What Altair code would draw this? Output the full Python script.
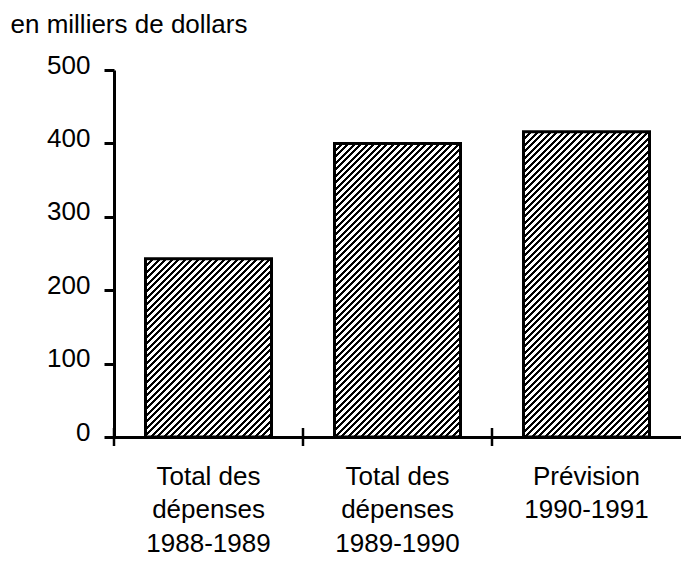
import altair as alt
import pandas as pd

categories = ["Total des|dépenses|1988-1989", "Total des|dépenses|1989-1990", "Prévision|1990-1991"]
values = [243, 400, 416]
y_ticks = [0, 100, 200, 300, 400, 500]
y_title = "en milliers de dollars"

PLOT_W = 567
PLOT_H = 367
BAR_W = 126
Y_MAX = 500

df = pd.DataFrame({"cat": categories, "val": values})


def hatch(w, h, period=6.5, frac=0.45):
    L = w + h
    stops = []
    k = 0
    while k * period / L <= 1:
        a = k * period / L
        b = min((k * period + frac * period) / L, 1)
        stops += [
            {"offset": a, "color": "white"},
            {"offset": a, "color": "black"},
            {"offset": b, "color": "black"},
            {"offset": b, "color": "white"},
        ]
        k += 1
    d = (w + h) / (w * w + h * h)
    return {"gradient": "linear", "x1": 0, "y1": 0, "x2": w * d, "y2": h * d, "stops": stops}


x_enc = alt.X(
    "cat:N",
    sort=categories,
    scale=alt.Scale(paddingInner=0, paddingOuter=0),
    axis=alt.Axis(
        title=None,
        labelAngle=0,
        labelExpr="split(datum.label, '|')",
        labelFontSize=26,
        labelLineHeight=33.5,
        labelPadding=26,
        labelColor="black",
        ticks=False,
        domainColor="black",
        domainWidth=3,
    ),
)
y_enc = alt.Y(
    "val:Q",
    scale=alt.Scale(domain=[0, Y_MAX], nice=False),
    axis=alt.Axis(
        values=y_ticks,
        title=y_title,
        titleAngle=0,
        titleAlign="left",
        titleBaseline="alphabetic",
        titleX=-104,
        titleY=-38,
        titleFontSize=26,
        titleFontWeight="normal",
        titleColor="black",
        labelFontSize=26,
        labelColor="black",
        labelPadding=14,
        labelBaseline="alphabetic",
        labelOffset=3,
        tickSize=10,
        tickWidth=3,
        tickColor="black",
        domainColor="black",
        domainWidth=3,
        grid=False,
    ),
)

layers = []
for c, v in zip(categories, values):
    h = v / Y_MAX * PLOT_H
    layers.append(
        alt.Chart(df)
        .transform_filter(alt.datum.cat == c)
        .mark_bar(size=BAR_W, stroke="black", strokeWidth=3, fill=hatch(BAR_W, h))
        .encode(x=x_enc, y=y_enc)
    )

ticks = (
    alt.Chart(df)
    .mark_rule(color="black", strokeWidth=2.5)
    .encode(
        x=alt.X("cat:N", sort=categories, bandPosition=0),
        y=alt.value(PLOT_H - 9),
        y2=alt.value(PLOT_H + 9),
    )
)

chart = (
    alt.layer(*layers, ticks)
    .properties(
        width=PLOT_W,
        height=PLOT_H,
        autosize=alt.AutoSizeParams(type="none"),
        padding={"left": 106, "top": 62, "right": 0, "bottom": 119},
    )
    .configure(font="Liberation Sans")
    .configure_view(stroke=None)
)

chart.save("out.html", embed_options={"renderer": "svg", "actions": False})
